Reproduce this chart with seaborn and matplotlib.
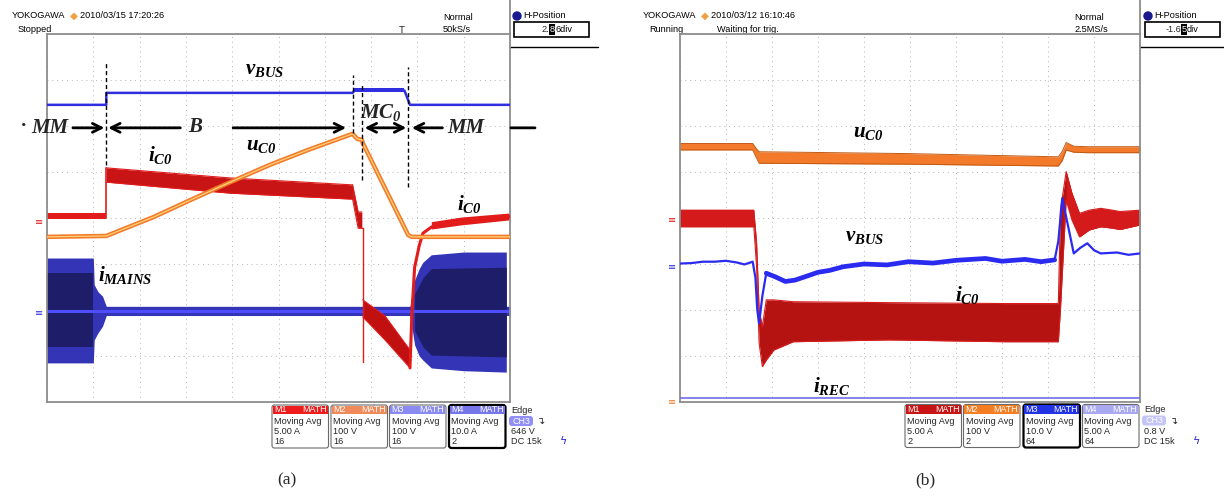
import numpy as np
import pandas as pd
import matplotlib
matplotlib.use("Agg")
import matplotlib.pyplot as plt
import seaborn as sns
from matplotlib.patches import FancyBboxPatch, Rectangle, Circle
from matplotlib.transforms import blended_transform_factory

# ---------------------------------------------------------------
# (a) 5 s/div, levels read in screen divisions (0..8)
# ---------------------------------------------------------------
a_vbus_t = [0, 6.4, 6.4, 33.0, 33.2, 38.6, 39.2, 50]
a_vbus_y = [6.46, 6.46, 6.72, 6.72, 6.77, 6.77, 6.46, 6.46]
a_vbus_band_t = [33.2, 38.6]
a_vbus_band_top = [6.82, 6.82]
a_vbus_band_bot = [6.73, 6.73]

a_uc0_t = [0, 6.4, 11.5, 15.7, 19.8, 24.0, 28.2, 33.0, 33.5, 34.0, 34.1, 39.0, 39.4, 50]
a_uc0_y = [3.59, 3.61, 4.02, 4.41, 4.78, 5.15, 5.48, 5.83, 5.72, 5.70, 5.63, 3.63, 3.59, 3.59]

a_ic0_pre_t = [0, 6.4]
a_ic0_pre_top = [4.11, 4.11]
a_ic0_pre_bot = [3.98, 3.98]
a_ic0_boost_t = [6.4, 19.8, 33.0]
a_ic0_boost_top = [5.09, 4.87, 4.72]
a_ic0_boost_bot = [4.78, 4.54, 4.41]
a_ic0_spike_t = [33.0, 33.6, 34.0]
a_ic0_spike_top = [4.72, 4.13, 4.13]
a_ic0_spike_bot = [4.41, 3.78, 3.78]
a_ic0_drop_t = [34.0, 34.1, 34.1]
a_ic0_drop_y = [3.78, 3.78, 0.87]
a_ic0_neg_t = [34.1, 36.5, 39.2]
a_ic0_neg_top = [2.22, 1.87, 1.13]
a_ic0_neg_bot = [1.85, 1.35, 0.74]
a_ic0_rec_t = [39.2, 39.4, 39.7, 40.2, 40.6, 41.5, 42.2, 44.7, 50]
a_ic0_rec_y = [0.74, 1.9, 2.93, 3.4, 3.67, 3.8, 3.85, 3.93, 4.03]
a_ic0_end_t = [41.5, 44.7, 50]
a_ic0_end_top = [3.92, 4.02, 4.11]
a_ic0_end_bot = [3.76, 3.85, 3.96]

a_imains_t = [0, 5.0, 5.1, 5.5, 6.0, 6.4, 39.2, 39.5, 39.7, 40.2, 40.6, 41.5, 45.0, 49.6, 49.6, 50]
a_imains_top = [3.13, 3.13, 2.55, 2.4, 2.3, 2.08, 2.08, 2.45, 2.65, 2.9, 3.04, 3.2, 3.26, 3.26, 2.08, 2.08]
a_imains_bot = [0.85, 0.85, 1.35, 1.5, 1.65, 1.88, 1.88, 1.5, 1.24, 1.0, 0.91, 0.74, 0.68, 0.65, 1.88, 1.88]
a_core1_t = [0, 5.0]
a_core1_top = [2.8, 2.8]
a_core1_bot = [1.2, 1.2]
a_core2_t = [39.7, 40.6, 41.5, 49.6]
a_core2_top = [2.35, 2.7, 2.9, 2.93]
a_core2_bot = [1.55, 1.2, 1.02, 0.98]
a_imains_mid = 1.98

a_mark_t = [6.4, 33.0, 34.0, 39.0]
a_mark_y0 = [5.15, 5.85, 4.83, 4.67]
a_mark_y1 = [7.39, 7.11, 6.93, 7.28]

a_gnd = [3.91, 1.93]

# ---------------------------------------------------------------
# (b) 20 ms/div
# ---------------------------------------------------------------
b_uc0_t = [0, 31.6, 33.3, 34.4, 99.3, 164.5, 166.2, 167.9, 171.2, 177.1, 200]
b_uc0_top = [5.62, 5.62, 5.50, 5.44, 5.40, 5.33, 5.45, 5.64, 5.56, 5.55, 5.55]
b_uc0_bot = [5.48, 5.48, 5.30, 5.19, 5.17, 5.13, 5.25, 5.48, 5.43, 5.42, 5.42]

b_ic0_t = [0, 32.1, 33.3, 34.4, 35.8, 37.5, 40.8, 49.2, 91.0, 141.1, 164.5,
           165.4, 167.9, 170.4, 173.7, 177.9, 182.9, 188.0, 191.3, 200]
b_ic0_top = [4.17, 4.17, 3.45, 2.00, 1.64, 2.22, 2.22, 2.18, 2.16, 2.14, 2.14,
             4.17, 5.01, 4.54, 4.10, 4.17, 4.21, 4.17, 4.14, 4.17]
b_ic0_bot = [3.81, 3.81, 2.94, 1.28, 0.77, 0.91, 1.13, 1.31, 1.35, 1.31, 1.31,
             2.00, 4.39, 3.96, 3.59, 3.74, 3.81, 3.78, 3.75, 3.85]

b_vbus_t = [0, 5, 10, 15, 20, 25, 28, 31.6, 32.8, 33.6, 34.4, 35.8, 37.5, 41.5, 45.8,
            50, 54.2, 60, 65, 70.9, 80, 90, 99.3, 110, 120, 132.8, 140, 150, 157,
            162.9, 164.5, 166.2, 168, 171.2, 174, 177.1, 180, 182.9, 190, 195, 200]
b_vbus_y = [3.01, 3.02, 3.05, 3.05, 3.07, 3.03, 2.99, 3.05, 2.7, 2.0, 1.71, 2.3, 2.80, 2.72, 2.62,
            2.65, 2.72, 2.82, 2.86, 2.94, 3.0, 2.98, 3.05, 3.02, 3.08, 3.12, 3.06, 3.1, 3.05,
            3.09, 3.5, 4.43, 4.0, 3.23, 3.35, 3.45, 3.3, 3.23, 3.25, 3.2, 3.23]

b_irec_t = [0, 200]
b_irec_y = [0.08, 0.08]

b_gnd = [3.96, 2.93, 0.0]

# legend boxes
math_names = ["M1", "M2", "M3", "M4"]
a_heads = ["#ee1c1c", "#f08a5a", "#8a8af2", "#7676ea"]
a_scales = ["5.00 A", "100 V", "100 V", "10.0 A"]
a_avgs = ["16", "16", "16", "2"]
b_heads = ["#c81414", "#f57d22", "#2233e6", "#a9a9f2"]
b_scales = ["5.00 A", "100 V", "10.0 V", "5.00 A"]
b_avgs = ["2", "2", "64", "64"]

RED = "#e21b1b"
DRED = "#b51212"
ORANGE = "#f27a2a"
BLUE = "#2f2fe0"
NAVY = "#1d1d6a"
MBLUE = "#3434b6"
LAV = "#6e6ee6"

sns.set_style("white")
plt.rcParams["font.family"] = ["Liberation Sans", "DejaVu Sans"]
plt.rcParams["mathtext.fontset"] = "custom"
plt.rcParams["mathtext.rm"] = "Liberation Serif:bold:italic"
plt.rcParams["mathtext.it"] = "Liberation Serif:bold:italic"
plt.rcParams["mathtext.bf"] = "Liberation Serif:bold:italic"


def trace(ax, t, y, color, lw, z=3):
    sns.lineplot(x=t, y=y, ax=ax, color=color, lw=lw, estimator=None,
                 sort=False, legend=False, zorder=z)


def band(ax, t, top, bot, face, edge=None, lw=0.8, z=2):
    ax.fill_between(t, bot, top, color=face, lw=0, zorder=z)
    if edge:
        trace(ax, t, top, edge, lw, z)
        trace(ax, t, bot, edge, lw, z)


def scope(ax, tmax):
    ax.set_xlim(0, tmax)
    ax.set_ylim(0, 8)
    ax.set_xticks(np.linspace(0, tmax, 11))
    ax.set_yticks(range(9))
    ax.grid(True, color="#b4b4b4", lw=0.7, ls=(0, (1, 4)))
    ax.tick_params(length=0, labelbottom=False, labelleft=False)
    ax.set_xlabel("")
    ax.set_ylabel("")
    for s in ax.spines.values():
        s.set_color("#8c8c8c")
        s.set_linewidth(1.3)


def ground(ax, levels, colors):
    tr = blended_transform_factory(ax.transAxes, ax.transData)
    for lv, c in zip(levels, colors):
        ax.text(-0.008, lv, "≡", transform=tr, color=c, fontsize=7,
                ha="right", va="center", family="DejaVu Sans")


fig = plt.figure(figsize=(12.24, 4.96), dpi=100)
ov = fig.add_axes([0, 0, 1, 1])
ov.set_xlim(0, 1224)
ov.set_ylim(496, 0)
ov.axis("off")
axa = fig.add_axes([47 / 1224, 94 / 496, 463 / 1224, 368 / 496])
axb = fig.add_axes([680 / 1224, 94 / 496, 460 / 1224, 368 / 496])

# ------------------------- panel (a) -------------------------
band(axa, a_imains_t, a_imains_top, a_imains_bot, MBLUE, z=1)
band(axa, a_core1_t, a_core1_top, a_core1_bot, NAVY, z=1)
band(axa, a_core2_t, a_core2_top, a_core2_bot, NAVY, z=1)
axa.axhline(a_imains_mid, color="#4d4dff", lw=2.2, zorder=1.5)

band(axa, a_ic0_pre_t, a_ic0_pre_top, a_ic0_pre_bot, RED, z=2)
trace(axa, [6.4, 6.4], [4.0, 5.09], RED, 1.2)
band(axa, a_ic0_boost_t, a_ic0_boost_top, a_ic0_boost_bot, "#c81414", RED)
band(axa, a_ic0_spike_t, a_ic0_spike_top, a_ic0_spike_bot, "#c81414", RED)
trace(axa, a_ic0_drop_t, a_ic0_drop_y, RED, 1.0)
band(axa, a_ic0_neg_t, a_ic0_neg_top, a_ic0_neg_bot, "#c01010", RED)
trace(axa, a_ic0_rec_t, a_ic0_rec_y, RED, 2.2)
band(axa, a_ic0_end_t, a_ic0_end_top, a_ic0_end_bot, RED, z=2)

trace(axa, a_uc0_t, a_uc0_y, ORANGE, 3.2, z=4)
trace(axa, a_uc0_t, a_uc0_y, "#ffd27a", 0.9, z=4)

band(axa, a_vbus_band_t, a_vbus_band_top, a_vbus_band_bot, BLUE, z=3)
trace(axa, a_vbus_t, a_vbus_y, BLUE, 1.8)

for t, y0, y1 in zip(a_mark_t, a_mark_y0, a_mark_y1):
    axa.plot([t, t], [y0, y1], color="black", lw=1.0, ls=(0, (3, 2)), zorder=5)

scope(axa, 50)
ground(axa, a_gnd, [RED, BLUE])

lab = dict(fontsize=15, ha="center", va="center", zorder=7, color="black")
axa.text(23.5, 7.22, r"$v_{BUS}$", **lab)
axa.text(12.2, 5.37, r"$i_{C0}$", **lab)
axa.text(23.1, 5.57, r"$u_{C0}$", **lab)
axa.text(45.6, 4.30, r"$i_{C0}$", **lab)
axa.text(8.4, 2.76, r"$i_{MAINS}$", **lab)

row = 5.96
ph = dict(fontsize=15, ha="center", va="center", family="Liberation Serif",
          style="italic", weight="bold", zorder=7, clip_on=False)
axa.text(-2.5, row + 0.05, "·", **ph)
axa.text(0.3, row, "MM", **ph)
axa.text(16.0, row + 0.02, "B", **ph)
axa.text(45.2, row, "MM", **ph)
axa.text(36.1, 6.30, r"$MC_0$", fontsize=15, ha="center", va="center", zorder=7)
arr = [(2.8, 6.2, "->"), (14.4, 6.6, "->"), (20.1, 32.3, "->"),
       (38.8, 34.3, "<->"), (42.7, 39.4, "->"), (50.1, 52.7, "-")]
for x0, x1, st in arr:
    axa.annotate("", xy=(x1, row), xytext=(x0, row), annotation_clip=False,
                 arrowprops=dict(arrowstyle=st, lw=2.0, color="black",
                                 mutation_scale=16, shrinkA=0, shrinkB=0))

# ------------------------- panel (b) -------------------------
band(axb, b_uc0_t, b_uc0_top, b_uc0_bot, ORANGE, "#c05a14", lw=0.7)
band(axb, b_ic0_t, b_ic0_top, b_ic0_bot, DRED, "#d81c1c", lw=0.8)
band(axb, b_ic0_t[:2], b_ic0_top[:2], b_ic0_bot[:2], "#d41a1a")
band(axb, b_ic0_t[12:], b_ic0_top[12:], b_ic0_bot[12:], "#d41a1a")
trace(axb, b_vbus_t, b_vbus_y, "#2a2af0", 1.6, z=4)
trace(axb, b_vbus_t[12:30], b_vbus_y[12:30], "#2a2af0", 3.4, z=4)
trace(axb, b_irec_t, b_irec_y, LAV, 1.2)

scope(axb, 200)
ground(axb, b_gnd, [RED, BLUE, ORANGE])

axb.text(81.7, 5.85, r"$u_{C0}$", **lab)
axb.text(80.4, 3.59, r"$v_{BUS}$", **lab)
axb.text(124.8, 2.33, r"$i_{C0}$", **lab)
axb.text(66.1, 0.35, r"$i_{REC}$", **lab)

# ------------------------- screen furniture -------------------------
hd = dict(fontsize=6.6, va="center", color="black")


def header(dx, date, status, extra, rate, hp_a, hp_hl, hp_b, hl_x, top_lbl, top_x, tdiv, frame_r):
    ov.text(12 + dx, 16, "YOKOGAWA", **hd)
    ov.text(70 + dx, 16, "◆", fontsize=7.5, color="#f0a040", va="center", family="DejaVu Sans")
    ov.text(80 + dx, 16, date, **hd)
    ov.text(18 + dx, 29, status, **hd)
    if extra:
        ov.text(717, 29, extra, **hd)
    ov.text(443 + dx, 17, "Normal", **hd)
    ov.text(443 + dx, 29, rate, **hd)
    ov.add_patch(Circle((517 + dx, 16), 4, color="#1a1a90"))
    ov.text(523 + dx, 16, "H-Position", **hd)
    ov.add_patch(Rectangle((514 + dx, 22), 75, 15, fc="white", ec="black", lw=1.2))
    ov.text(hl_x, 29.5, hp_a, ha="right", fontsize=6.6, va="center")
    ov.text(hl_x + 3, 29.5, hp_hl, ha="center", fontsize=6.6, va="center", color="white",
            bbox=dict(boxstyle="square,pad=0.1", fc="black", ec="none"))
    ov.text(hl_x + 6, 29.5, hp_b, **hd)
    ov.plot([frame_r, frame_r], [0, 34], color="#8c8c8c", lw=1.3)
    ov.plot([frame_r, 1224 if dx else 598], [47, 47], color="black", lw=1.0)
    ov.text(top_x, 40, top_lbl, fontsize=4.5, color="#555555", ha="center", va="center")
    ov.text(frame_r - 2, 43, tdiv, fontsize=6.6, ha="right", va="center")


header(0, "2010/03/15 17:20:26", "Stopped", None, "50kS/s", "2.", "8", "6div", 549,
       "Main : 2.5 M", 274, "5s/div", 510)
header(631, "2010/03/12 16:10:46", "Running", "Waiting for trig.", "2.5MS/s", "-1.6", "5", "div", 1181,
       "ZOOM1 : 500 k", 910, "20ms/div", 1140)
ov.text(402, 31, "T", fontsize=7, va="center", ha="center")


def math_boxes(x0s, top, heads, scales, avgs, sel, edge_x, ch_fc, lvl, sq_x):
    w = 56.5
    for i, x0 in enumerate(x0s):
        ov.add_patch(FancyBboxPatch((x0, top), w, 43, boxstyle="round,pad=0,rounding_size=2.5",
                                    fc="white", ec="black" if i == sel else "#6a6a6a",
                                    lw=1.6 if i == sel else 0.8))
        ov.add_patch(Rectangle((x0 + 0.8, top + 0.8), w - 1.6, 8.6, fc=heads[i], ec="none"))
        ov.text(x0 + 2, top + 5, math_names[i], color="white", fontsize=6.4, va="center")
        ov.text(x0 + w - 2, top + 5, "MATH", color="white", fontsize=6.4, va="center", ha="right")
        ov.text(x0 + 2, top + 16.5, "Moving Avg", fontsize=6.6, va="center")
        ov.text(x0 + 2, top + 26.5, scales[i], fontsize=6.6, va="center")
        ov.text(x0 + 2, top + 36.5, avgs[i], fontsize=6.6, va="center")
    ov.text(edge_x, top + 5.5, "Edge", fontsize=6.6, va="center")
    ov.add_patch(FancyBboxPatch((edge_x - 2, top + 11), 24, 10, boxstyle="round,pad=0,rounding_size=3",
                                fc=ch_fc, ec="none"))
    ov.text(edge_x + 10, top + 16, "CH3", color="white", fontsize=6.4, ha="center", va="center")
    ov.text(edge_x + 26, top + 16, "↴", fontsize=7, va="center", family="DejaVu Sans")
    ov.text(edge_x, top + 26.5, lvl, fontsize=6.6, va="center")
    ov.text(edge_x, top + 36.5, "DC 15k", fontsize=6.6, va="center")
    ov.text(sq_x, top + 36.5, "ϟ", fontsize=8, color="#2a2ad0", va="center", family="DejaVu Sans")


math_boxes([272, 331, 389.5, 449], 405, a_heads, a_scales, a_avgs, 3, 511, "#8f8ff5", "646 V", 560)
math_boxes([905, 963.5, 1023.5, 1082.5], 404.5, b_heads, b_scales, b_avgs, 2, 1144, "#c4c4f6", "0.8 V", 1193)

ov.text(287, 480, "(a)", fontsize=12.5, family="Liberation Serif", ha="center", va="center")
ov.text(925, 480, "(b)", fontsize=12.5, family="Liberation Serif", ha="center", va="center")

fig.savefig("out.png", dpi=100, facecolor="white")
